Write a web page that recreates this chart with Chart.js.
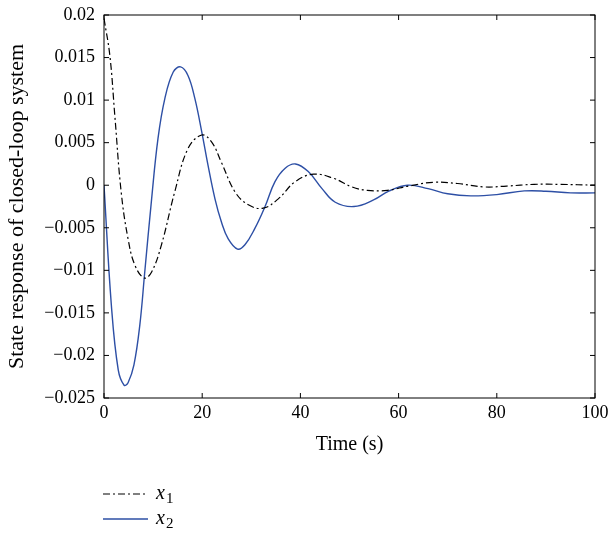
<!DOCTYPE html>
<html>
<head>
<meta charset="utf-8">
<script src="https://cdn.jsdelivr.net/npm/chart.js@4.4.0/dist/chart.umd.min.js"></script>
<style>
  body { margin: 0; background: #fff; }
  #wrap { width: 610px; height: 533px; }
</style>
</head>
<body>
<div id="wrap"><canvas id="myChart" width="610" height="533"></canvas></div>
<script>
// x1 (dash-dot) samples
const timeX1 = [0, 1.2, 2.2, 3.5, 4.9, 6.3, 8.2, 9.7, 11.7, 14.4, 17.1, 19.9, 21.9, 23.9, 26.7, 29.4, 32.4, 35.5, 38.9, 42.7, 46.8, 50.5, 53.6, 57.7, 62, 67.2, 72, 77.4, 82, 87.6, 93, 100];
const x1Values = [0.0196, 0.0152, 0.0082, -0.0008, -0.0063, -0.0094, -0.0109, -0.0102, -0.0070, -0.0008, 0.0043, 0.0059, 0.0051, 0.0027, -0.0008, -0.0023, -0.0027, -0.0016, 0.0004, 0.0013, 0.0008, -0.0002, -0.0006, -0.0006, -0.0001, 0.00035, 0.0002, -0.0002, -0.0001, 0.0001, 0.0001, 0];

// x2 (solid blue)
const timeX2 = [0, 1.5, 2.9, 4.1, 4.9, 6.1, 7.3, 8.3, 9.7, 11, 12.4, 14.1, 15.6, 17.1, 18.5, 19.9, 21.2, 22.6, 23.9, 25.3, 27.2, 28.7, 30.7, 32.8, 34.8, 36.9, 39, 41.6, 44.4, 47.1, 50.9, 55, 58, 61.8, 66, 70, 74.7, 80, 85.6, 90, 95, 100];
const x2Values = [0, -0.0141, -0.0217, -0.0235, -0.0232, -0.0211, -0.0164, -0.0102, -0.0016, 0.0055, 0.0102, 0.0133, 0.0139, 0.0129, 0.0102, 0.0063, 0.0023, -0.0016, -0.0043, -0.0063, -0.0075, -0.0070, -0.0051, -0.0025, 0.0004, 0.0020, 0.0025, 0.0016, -0.0004, -0.0020, -0.0025, -0.0017, -0.0007, 0, -0.0004, -0.0010, -0.00125, -0.0011, -0.00067, -0.0007, -0.0009, -0.0009];

const xTicks = [0, 20, 40, 60, 80, 100];
const yTicks = [0.02, 0.015, 0.01, 0.005, 0, -0.005, -0.01, -0.015, -0.02, -0.025];
const seriesNames = ['x', 'x'];
const seriesSubs = ['1', '2'];

const FONT = '"Liberation Serif", "DejaVu Serif", serif';
const BLUE = '#2d4fa5';
const X1_DASH = [7, 3, 2, 3];

function pairs(xs, ys) {
  return xs.map(function (t, i) { return { x: t, y: ys[i] }; });
}

function fmtY(v) {
  if (Math.abs(v) < 1e-9) return '0';
  const s = String(Math.round(Math.abs(v) * 1000) / 1000);
  return v < 0 ? '\u2212' + s : s;
}

// frame, inward ticks on all four sides, and the legend under the plot
const framePlugin = {
  id: 'frame',
  afterDraw: function (chart) {
    const ctx = chart.ctx;
    const a = chart.chartArea;
    const xs = chart.scales.x;
    const ys = chart.scales.y;
    ctx.save();
    ctx.strokeStyle = '#000';
    ctx.lineWidth = 1;
    ctx.strokeRect(a.left, a.top, a.right - a.left, a.bottom - a.top);
    ctx.beginPath();
    xTicks.forEach(function (t) {
      const px = xs.getPixelForValue(t);
      ctx.moveTo(px, a.bottom); ctx.lineTo(px, a.bottom - 5);
      ctx.moveTo(px, a.top); ctx.lineTo(px, a.top + 5);
    });
    yTicks.forEach(function (v) {
      const py = ys.getPixelForValue(v);
      ctx.moveTo(a.left, py); ctx.lineTo(a.left + 5, py);
      ctx.moveTo(a.right, py); ctx.lineTo(a.right - 5, py);
    });
    ctx.stroke();

    // legend
    const rows = [494, 519];
    chart.data.datasets.forEach(function (ds, i) {
      const y = rows[i];
      ctx.beginPath();
      ctx.strokeStyle = ds.borderColor;
      ctx.lineWidth = ds.borderWidth;
      ctx.setLineDash(ds.borderDash || []);
      ctx.moveTo(103, y); ctx.lineTo(148, y);
      ctx.stroke();
      ctx.setLineDash([]);
      ctx.fillStyle = '#000';
      ctx.textBaseline = 'alphabetic';
      ctx.font = 'italic 20px ' + FONT;
      ctx.fillText(seriesNames[i], 156, y + 5);
      const w = ctx.measureText(seriesNames[i]).width;
      ctx.font = '15px ' + FONT;
      ctx.fillText(seriesSubs[i], 156 + w + 1, y + 9);
    });
    ctx.restore();
  }
};

const config = {
  type: 'line',
  data: {
    datasets: [{
      label: 'x1',
      data: pairs(timeX1, x1Values),
      borderColor: '#000',
      borderWidth: 1.2,
      borderDash: X1_DASH,
      pointRadius: 0,
      tension: 0.4,
      fill: false
    }, {
      label: 'x2',
      data: pairs(timeX2, x2Values),
      borderColor: BLUE,
      borderWidth: 1.4,
      pointRadius: 0,
      tension: 0.4,
      fill: false
    }]
  },
  options: {
    responsive: false,
    animation: false,
    layout: { padding: { top: 15, right: 15, bottom: 75, left: 0 } },
    plugins: {
      legend: { display: false },
      tooltip: { enabled: false }
    },
    scales: {
      x: {
        type: 'linear',
        min: 0,
        max: 100,
        afterFit: function (s) { s.height = 60; s.paddingLeft = 0; s.paddingRight = 0; },
        afterBuildTicks: function (s) { s.ticks = xTicks.map(function (v) { return { value: v }; }); },
        grid: { display: false, drawTicks: false },
        border: { display: false },
        ticks: { color: '#000', font: { family: FONT, size: 18 }, padding: 4, maxRotation: 0 },
        title: { display: true, text: 'Time (s)', color: '#000', font: { family: FONT, size: 20 }, padding: { top: 0, bottom: 1 } }
      },
      y: {
        type: 'linear',
        min: -0.025,
        max: 0.02,
        afterFit: function (s) { s.width = 104; s.paddingTop = 0; s.paddingBottom = 0; },
        afterBuildTicks: function (s) { s.ticks = yTicks.map(function (v) { return { value: v }; }); },
        grid: { display: false, drawTicks: false },
        border: { display: false },
        ticks: { color: '#000', font: { family: FONT, size: 18 }, padding: 9, callback: function (v) { return fmtY(v); } },
        title: { display: true, text: 'State response of closed-loop system', color: '#000', font: { family: FONT, size: 22 }, padding: { top: 4, bottom: 0 } }
      }
    }
  },
  plugins: [framePlugin]
};

new Chart(document.getElementById('myChart'), config);
</script>
</body>
</html>
